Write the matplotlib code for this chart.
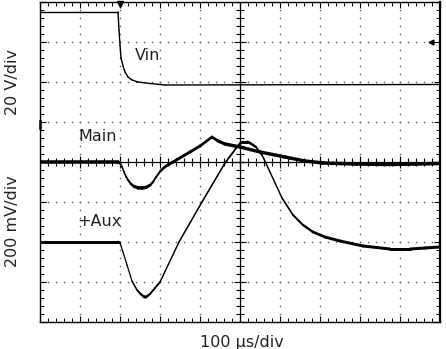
import numpy as np
import matplotlib
matplotlib.use('Agg')
import matplotlib.pyplot as plt
from matplotlib.collections import LineCollection

# scope traces, in screen divisions (x: 0..10, y: -4..4)
vin_t = [0, 1.925, 1.95, 1.975, 2.0, 2.025, 2.075, 2.125, 2.2, 2.3, 2.45, 2.75, 3.125, 10.0]
vin_v = [3.75, 3.75, 3.75, 3.3, 2.925, 2.6, 2.4, 2.25, 2.125, 2.05, 2.0, 1.9625, 1.925, 1.9375]

main_t = [0, 1.95, 2.0, 2.05, 2.1, 2.15, 2.2, 2.275, 2.35, 2.45, 2.55, 2.65, 2.75, 2.825, 2.9,
          3.0, 3.1, 3.2, 3.325, 3.75, 4.0, 4.3, 4.45, 4.625, 5.0, 5.5, 6.125, 6.625, 7.075,
          7.9, 8.75, 9.375, 10.0]
main_v = [0, 0, -0.03, -0.12, -0.25, -0.36, -0.45, -0.55, -0.61, -0.645, -0.65, -0.635, -0.58,
          -0.5, -0.38, -0.24, -0.14, -0.07, 0.0, 0.25, 0.4, 0.625, 0.525, 0.45, 0.375, 0.25,
          0.125, 0.025, -0.025, -0.05, -0.0625, -0.05, -0.0375]

aux_t = [0, 1.95, 2.0, 2.075, 2.175, 2.3, 2.425, 2.525, 2.6, 2.65, 2.75, 2.875, 3.0, 3.475, 4.05,
         4.625, 4.925, 5.0, 5.075, 5.175, 5.25, 5.4, 5.55, 5.75, 6.05, 6.325, 6.575, 6.825,
         7.125, 7.5, 8.075, 8.75, 9.25, 9.625, 10.0]
aux_v = [-2, -2, -2.025, -2.25, -2.575, -2.975, -3.2, -3.31, -3.37, -3.375, -3.3, -3.15, -3.0,
         -2.0, -1.0, -0.025, 0.375, 0.46, 0.5, 0.5, 0.475, 0.375, 0.175, -0.25, -0.9, -1.325,
         -1.575, -1.75, -1.875, -1.975, -2.1, -2.175, -2.175, -2.15, -2.125]

labels = ['Vin', 'Main', '+Aux']
label_pos = [(2.7, 2.675), (1.44, 0.65), (1.475, -1.475)]

fig = plt.figure(figsize=(4.46, 3.49), dpi=100)
ax = fig.add_axes([40/446, 27/349, 400/446, 320/349])
ax.set_xlim(0, 10)
ax.set_ylim(-4, 4)

# dotted graticule
minor = np.arange(0, 10.01, 0.2)
minor_y = np.arange(-4, 4.01, 0.2)
for gx in range(1, 10):
    if gx != 5:
        ax.plot(np.full_like(minor_y, gx), minor_y, ls='none', marker='s', ms=1.0, mew=0, color='#555555')
for gy in range(-3, 4):
    if gy != 0:
        ax.plot(minor, np.full_like(minor, gy), ls='none', marker='s', ms=1.0, mew=0, color='#555555')

# center cross with ticks
ax.axhline(0, color='black', lw=0.9)
ax.axvline(5, color='black', lw=0.9)
ax.vlines(minor, -0.09, 0.09, color='black', lw=0.8)
ax.hlines(minor_y, 5 - 0.09, 5 + 0.09, color='black', lw=0.8)
ax.vlines(np.arange(0, 11), -0.14, 0.14, color='black', lw=0.8)
ax.hlines(np.arange(-4, 5), 5 - 0.14, 5 + 0.14, color='black', lw=0.8)


def trace(t, v, base, noise):
    # thicker where flat (vertical noise), thinner where steep
    t = np.asarray(t, float)
    v = np.asarray(v, float)
    segs = np.stack([np.column_stack([t[:-1], v[:-1]]), np.column_stack([t[1:], v[1:]])], axis=1)
    dx = np.diff(t)
    dy = np.diff(v)
    c2 = dx**2 / (dx**2 + dy**2)
    w = (base + noise * c2) * 0.72
    lc = LineCollection(segs, linewidths=w, colors='black', capstyle='round', joinstyle='round')
    ax.add_collection(lc)


trace(vin_t, vin_v, 1.4, 0.0)
trace(main_t, main_v, 1.2, 2.3)
trace(aux_t, aux_v, 1.1, 1.9)

for lab, (lx, ly) in zip(labels, label_pos):
    ax.text(lx, ly, lab, ha='center', va='center', fontsize=11.5, color='#222222')

# markers
ax.plot(2, 3.96, marker='v', ms=4.5, color='black', clip_on=False)
ax.plot(9.78, 3, marker='<', ms=3.5, color='black', clip_on=False)
ax.plot([0.01, 0.01], [0.85, 1.02], color='black', lw=1.8, clip_on=False)

ax.set_xticks(np.arange(0, 11))
ax.set_yticks(np.arange(-4, 5))
ax.set_xticks(minor, minor=True)
ax.set_yticks(minor_y, minor=True)
ax.tick_params(which='both', direction='in', top=True, right=True,
               labelbottom=False, labelleft=False, color='black')
ax.tick_params(which='major', length=4.5, width=0.8)
ax.tick_params(which='minor', length=2.6, width=0.7)
for s in ax.spines.values():
    s.set_linewidth(1.0)
ax.spines['right'].set_linewidth(1.6)

fig.text(13/446, 1 - 82/349, '20 V/div', rotation=90, ha='center', va='center', fontsize=11.5, color='#222222')
fig.text(13/446, 1 - 221/349, '200 mV/div', rotation=90, ha='center', va='center', fontsize=11.5, color='#222222')
fig.text(242/446, 1 - 346.5/349, '100 µs/div', ha='center', va='baseline', fontsize=11.5, color='#222222')

fig.savefig('out.png', dpi=100)
